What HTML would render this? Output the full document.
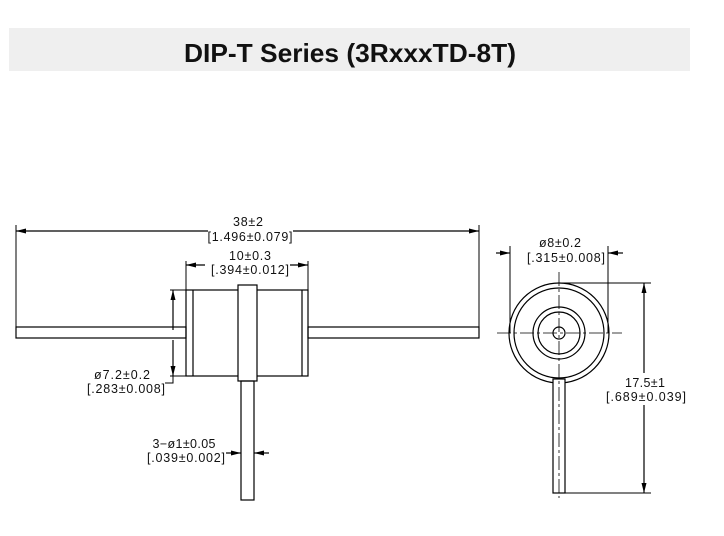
<!DOCTYPE html>
<html><head><meta charset="utf-8"><style>
html,body{margin:0;padding:0;background:#fff;}
svg{display:block;}
text{font-family:"Liberation Sans",sans-serif;fill:#111;}
</style></head><body>
<svg width="724" height="536" viewBox="0 0 724 536" xmlns="http://www.w3.org/2000/svg">
<rect x="9" y="28" width="681" height="43" fill="#efefef"/>
<text x="350" y="62" font-size="26" font-weight="bold" text-anchor="middle" textLength="332" lengthAdjust="spacingAndGlyphs">DIP-T Series (3RxxxTD-8T)</text>
<defs>
<marker id="a" markerWidth="10" markerHeight="6" refX="10" refY="3" orient="auto" markerUnits="userSpaceOnUse"><path d="M0,0.5 L10,3 L0,5.5z" fill="#000"/></marker>
</defs>
<g stroke="#000" stroke-width="1.2" fill="none">
<rect x="16" y="327" width="170" height="11"/>
<rect x="308" y="327" width="171" height="11"/>
<rect x="186" y="290" width="122" height="86"/>
<line x1="193" y1="290" x2="193" y2="376"/>
<line x1="302" y1="290" x2="302" y2="376"/>
<rect x="238" y="285" width="19" height="96" fill="#fff"/>
<rect x="241" y="381" width="13" height="119"/>
<line x1="16" y1="225" x2="16" y2="327" stroke-width="1"/>
<line x1="479" y1="225" x2="479" y2="327" stroke-width="1"/>
<line x1="208" y1="231" x2="16" y2="231" marker-end="url(#a)"/>
<line x1="293" y1="231" x2="479" y2="231" marker-end="url(#a)"/>
<line x1="186" y1="261" x2="186" y2="290" stroke-width="1"/>
<line x1="308" y1="261" x2="308" y2="290" stroke-width="1"/>
<line x1="205" y1="265" x2="186" y2="265" marker-end="url(#a)"/>
<line x1="290" y1="265" x2="308" y2="265" marker-end="url(#a)"/>
<line x1="170" y1="290" x2="186" y2="290" stroke-width="1"/>
<line x1="170" y1="376" x2="186" y2="376" stroke-width="1"/>
<line x1="173" y1="330" x2="173" y2="290" marker-end="url(#a)"/>
<line x1="173" y1="340" x2="173" y2="376" marker-end="url(#a)"/>
<polyline points="173,376 173,383 165,383" stroke-width="1"/>
<line x1="226" y1="453" x2="241" y2="453" marker-end="url(#a)"/>
<line x1="269" y1="453" x2="254" y2="453" marker-end="url(#a)"/>
<circle cx="559" cy="333" r="50"/>
<circle cx="559" cy="333" r="45"/>
<circle cx="559" cy="333" r="26"/>
<circle cx="559" cy="333" r="21"/>
<circle cx="559" cy="333" r="6"/>
<rect x="553" y="379" width="12" height="114" fill="#fff"/>
<line x1="497" y1="333" x2="622" y2="333" stroke-width="0.8" stroke-dasharray="14,3,3,3"/>
<line x1="559" y1="272" x2="559" y2="498" stroke-width="0.8" stroke-dasharray="14,3,3,3"/>
<line x1="510" y1="246" x2="510" y2="333" stroke-width="1"/>
<line x1="608" y1="246" x2="608" y2="333" stroke-width="1"/>
<line x1="496" y1="253" x2="510" y2="253" marker-end="url(#a)"/>
<line x1="623" y1="253" x2="608" y2="253" marker-end="url(#a)"/>
<line x1="559" y1="283" x2="651" y2="283" stroke-width="1"/>
<line x1="565" y1="493" x2="651" y2="493" stroke-width="1"/>
<line x1="644" y1="373" x2="644" y2="283" marker-end="url(#a)"/>
<line x1="644" y1="405" x2="644" y2="493" marker-end="url(#a)"/>
</g>
<g font-size="12.5" lengthAdjust="spacingAndGlyphs">
<text x="248" y="226" text-anchor="middle" textLength="30">38±2</text>
<text x="250" y="241" text-anchor="middle" textLength="85">[1.496±0.079]</text>
<text x="250" y="260" text-anchor="middle" textLength="42">10±0.3</text>
<text x="250" y="274" text-anchor="middle" textLength="78">[.394±0.012]</text>
<text x="122" y="379" text-anchor="middle" textLength="56">ø7.2±0.2</text>
<text x="126" y="393" text-anchor="middle" textLength="78">[.283±0.008]</text>
<text x="184" y="448" text-anchor="middle" textLength="63">3−ø1±0.05</text>
<text x="186" y="462" text-anchor="middle" textLength="78">[.039±0.002]</text>
<text x="560" y="247" text-anchor="middle" textLength="42">ø8±0.2</text>
<text x="566" y="262" text-anchor="middle" textLength="78">[.315±0.008]</text>
<text x="645" y="387" text-anchor="middle" textLength="40">17.5±1</text>
<text x="646" y="401" text-anchor="middle" textLength="80">[.689±0.039]</text>
</g>
</svg>
</body></html>
